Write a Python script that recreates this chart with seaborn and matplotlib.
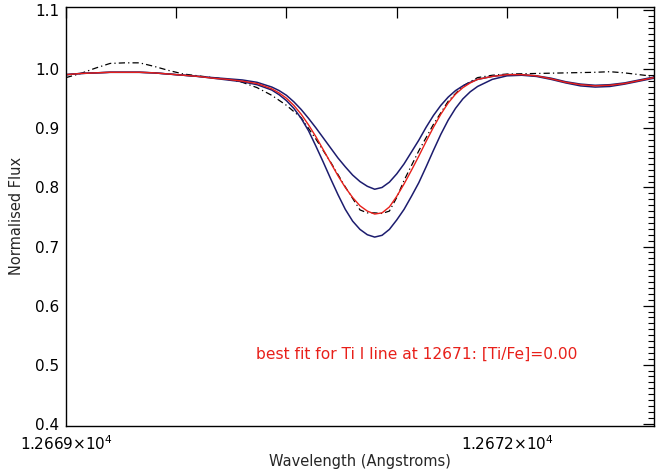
import matplotlib
matplotlib.use('Agg')
import matplotlib.pyplot as plt
from matplotlib.ticker import FixedLocator, MultipleLocator, FuncFormatter
import seaborn as sns

# wavelength grid of the synthetic spectra (Angstroms)
wave_model = [12669.0, 12669.1, 12669.2, 12669.3, 12669.4, 12669.5, 12669.6, 12669.7,
              12669.8, 12669.9, 12670.0, 12670.1, 12670.2, 12670.3, 12670.4,
              12670.45, 12670.5, 12670.55, 12670.6, 12670.65, 12670.7, 12670.75, 12670.8,
              12670.85, 12670.9, 12670.95, 12671.0, 12671.05, 12671.1,
              12671.15, 12671.2, 12671.25, 12671.3, 12671.35, 12671.4, 12671.45, 12671.5,
              12671.55, 12671.6, 12671.65, 12671.7, 12671.75, 12671.8,
              12671.9, 12672.0, 12672.1, 12672.2, 12672.3, 12672.4, 12672.5, 12672.6,
              12672.7, 12672.8, 12672.9, 12673.0]

# best fit [Ti/Fe]=0.00
flux_best = [0.991, 0.993, 0.994, 0.995, 0.995, 0.995, 0.994, 0.992, 0.990, 0.988,
             0.985, 0.983, 0.980, 0.976, 0.967,
             0.960, 0.951, 0.939, 0.924, 0.906, 0.886, 0.864, 0.842, 0.820, 0.800,
             0.783, 0.769, 0.760, 0.755,
             0.757, 0.767, 0.785, 0.806, 0.829, 0.853, 0.878, 0.902, 0.924, 0.943,
             0.958, 0.969, 0.977, 0.983,
             0.988, 0.991, 0.991, 0.989, 0.984, 0.978, 0.974, 0.972, 0.973, 0.976,
             0.981, 0.986]

# weaker abundance model
flux_low = [0.991, 0.993, 0.994, 0.995, 0.995, 0.995, 0.994, 0.992, 0.990, 0.988,
            0.986, 0.984, 0.982, 0.978, 0.970,
            0.964, 0.956, 0.945, 0.932, 0.917, 0.901, 0.884, 0.867, 0.850, 0.835,
            0.821, 0.810, 0.802, 0.797,
            0.800, 0.809, 0.823, 0.840, 0.860, 0.880, 0.902, 0.922, 0.939, 0.953,
            0.964, 0.972, 0.978, 0.983,
            0.988, 0.991, 0.991, 0.989, 0.985, 0.979, 0.975, 0.973, 0.974, 0.977,
            0.982, 0.987]

# stronger abundance model
flux_high = [0.991, 0.993, 0.994, 0.995, 0.995, 0.995, 0.994, 0.992, 0.990, 0.988,
             0.985, 0.982, 0.979, 0.974, 0.965,
             0.957, 0.947, 0.934, 0.917, 0.896, 0.870, 0.843, 0.815, 0.788, 0.763,
             0.743, 0.729, 0.720, 0.716,
             0.719, 0.729, 0.745, 0.763, 0.785, 0.808, 0.835, 0.863, 0.890, 0.914,
             0.934, 0.950, 0.962, 0.971,
             0.983, 0.989, 0.990, 0.988, 0.983, 0.977, 0.972, 0.970, 0.971, 0.975,
             0.980, 0.985]

# observed spectrum
wave_obs = [12669.0, 12669.1, 12669.2, 12669.3, 12669.4, 12669.5, 12669.6, 12669.7,
            12669.8, 12669.9, 12670.0, 12670.1, 12670.2, 12670.3, 12670.4, 12670.5,
            12670.6, 12670.7, 12670.8, 12670.9, 12671.0, 12671.05, 12671.1, 12671.15,
            12671.2, 12671.25, 12671.3, 12671.4, 12671.5, 12671.6, 12671.7, 12671.8,
            12671.9, 12672.0, 12672.2, 12672.4, 12672.6, 12672.7, 12672.8, 12672.9,
            12673.0]
flux_obs = [0.986, 0.993, 1.002, 1.010, 1.011, 1.011, 1.005, 0.998,
            0.992, 0.989, 0.986, 0.983, 0.978, 0.969, 0.956, 0.939,
            0.918, 0.882, 0.843, 0.801, 0.762, 0.757, 0.757, 0.756,
            0.760, 0.783, 0.812, 0.862, 0.907, 0.946, 0.972, 0.986,
            0.990, 0.992, 0.993, 0.994, 0.995, 0.996, 0.994, 0.991,
            0.988]

fit_text = 'best fit for Ti I line at 12671: [Ti/Fe]=0.00'
major_x = [12669.0, 12669.75, 12670.5, 12671.25, 12672.0, 12672.75]
labelled_x = {12669.0: '1.2669', 12672.0: '1.2672'}

navy = '#1c1c6e'
red = '#e8201a'

sns.set_style('white')
plt.rcParams['font.family'] = ['DejaVu Sans']

fig = plt.figure(figsize=(6.68, 4.72), dpi=100)
ax = fig.add_axes([0.0988, 0.0985, 0.8802, 0.886])

sns.lineplot(x=wave_obs, y=flux_obs, ax=ax, color='black', linewidth=0.9,
             linestyle=(0, (5, 2.5, 1, 2.5)))
sns.lineplot(x=wave_model, y=flux_low, ax=ax, color=navy, linewidth=1.1)
sns.lineplot(x=wave_model, y=flux_high, ax=ax, color=navy, linewidth=1.1)
sns.lineplot(x=wave_model, y=flux_best, ax=ax, color=red, linewidth=1.0)

ax.set_xlim(12669.0, 12673.0)
ax.set_ylim(0.397, 1.105)

def xfmt(v, pos):
    for k, s in labelled_x.items():
        if abs(v - k) < 1e-6:
            return s + r'$\times$10$^{4}$'
    return ''

ax.xaxis.set_major_locator(FixedLocator(major_x))
ax.xaxis.set_major_formatter(FuncFormatter(xfmt))
ax.yaxis.set_major_locator(MultipleLocator(0.1))
ax.yaxis.set_minor_locator(MultipleLocator(0.01))
ax.yaxis.set_major_formatter(FuncFormatter(lambda v, p: '%.1f' % v))

ax.tick_params(which='both', direction='in', top=True, right=True, colors='black')
ax.tick_params(which='major', length=8, width=0.9, labelsize=11, pad=5)
ax.tick_params(which='minor', length=4.5, width=0.8)
ax.tick_params(axis='x', pad=6)

for sp in ax.spines.values():
    sp.set_visible(True)
    sp.set_color('black')
    sp.set_linewidth(1.0)

ax.set_xlabel('Wavelength (Angstroms)', fontsize=10.5)
ax.set_ylabel('Normalised Flux', fontsize=10.5)
ax.xaxis.set_label_coords(0.5, -0.068)
ax.yaxis.set_label_coords(-0.071, 0.5)

ax.text(12670.29, 0.518, fit_text, color=red, fontsize=11.2, va='center', ha='left')

fig.savefig('out.png', dpi=100)
